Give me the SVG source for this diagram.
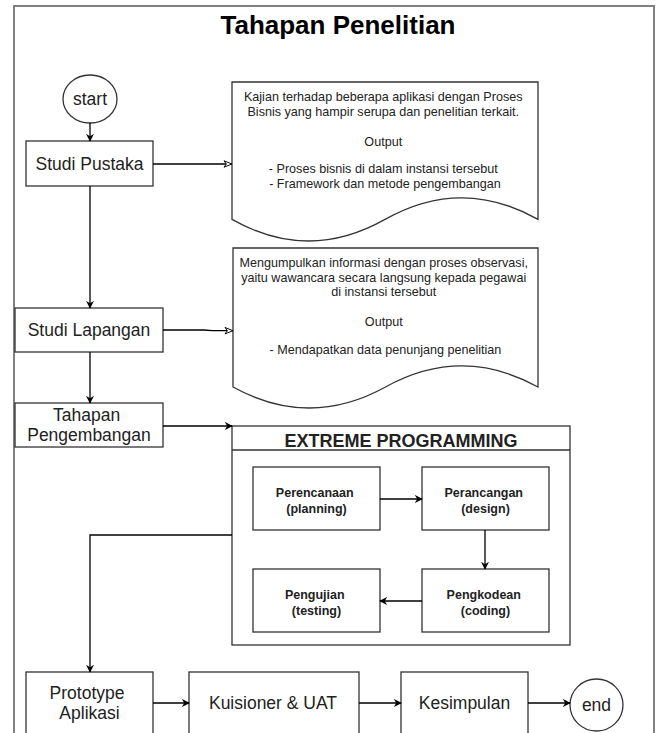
<svg xmlns="http://www.w3.org/2000/svg" width="660" height="733" viewBox="0 0 660 733">
  <defs>
    <marker id="arrow" viewBox="0 0 10 10" refX="9" refY="5" markerWidth="8" markerHeight="8" markerUnits="userSpaceOnUse" orient="auto">
      <path d="M0,0 L10,5 L0,10 L3,5 Z" fill="#000"/>
    </marker>
    <marker id="arrowOpen" viewBox="0 0 12 10" refX="11" refY="5" markerWidth="10" markerHeight="8" markerUnits="userSpaceOnUse" orient="auto">
      <path d="M1,1 L11,5 L1,9 L4,5 Z" fill="#fff" stroke="#000" stroke-width="1.2"/>
    </marker>
    <style>
      .box { fill: #fff; stroke: #333; stroke-width: 1.3; }
      .doc { fill: #fff; stroke: #333; stroke-width: 1.3; }
      .lbl { font-family: "Liberation Sans", Arial, sans-serif; font-size: 17.5px; fill: #222; text-anchor: middle; }
      .small { font-family: "Liberation Sans", Arial, sans-serif; font-size: 12.6px; fill: #222; text-anchor: middle; }
      .xp { font-family: "Liberation Sans", Arial, sans-serif; font-size: 12.5px; font-weight: bold; fill: #222; text-anchor: middle; }
      .edge-open { fill: none; stroke: #000; stroke-width: 1.3; marker-end: url(#arrowOpen); }
      .edge-arr { fill: none; stroke: #000; stroke-width: 1.3; marker-end: url(#arrow); }
    </style>
  </defs>

  <rect width="660" height="733" fill="#fff"/>

  <!-- outer frame -->
  <g id="frame">
    <rect x="14" y="6" width="640" height="740" fill="none" stroke="#808080" stroke-width="2"/>
    <text x="338" y="34" font-family="Liberation Sans, Arial, sans-serif" font-size="26" font-weight="bold" text-anchor="middle" fill="#000">Tahapan Penelitian</text>
  </g>

  <g id="start">
    <ellipse cx="90" cy="99" rx="27" ry="24" class="box"/>
    <text x="90" y="105" class="lbl">start</text>
  </g>

  <g id="studi-pustaka">
    <rect x="26" y="141" width="127" height="45" class="box"/>
    <text x="89.5" y="170" class="lbl">Studi Pustaka</text>
  </g>

  <g id="doc-pustaka">
    <path class="doc" d="M232,82 H538 V219.4 Q461.5,176.2 385,219.4 Q308.5,262.6 232,219.4 Z"/>
    <text class="small">
      <tspan x="385" y="101">Kajian terhadap beberapa aplikasi dengan Proses</tspan>
      <tspan x="385" y="116">Bisnis yang hampir serupa dan penelitian terkait.</tspan>
      <tspan x="385" y="146">Output</tspan>
      <tspan x="385" y="173">- Proses bisnis di dalam instansi tersebut</tspan>
      <tspan x="385" y="188">- Framework dan metode pengembangan</tspan>
    </text>
  </g>

  <g id="studi-lapangan">
    <rect x="15" y="308" width="148" height="44" class="box"/>
    <text x="89" y="336" class="lbl">Studi Lapangan</text>
  </g>

  <g id="doc-lapangan">
    <path class="doc" d="M233,248 H538 V387 Q461.75,344.9 385.5,387 Q309.25,429 233,387 Z"/>
    <text class="small">
      <tspan x="385.5" y="267">Mengumpulkan informasi dengan proses observasi,</tspan>
      <tspan x="385.5" y="281.5">yaitu wawancara secara langsung kepada pegawai</tspan>
      <tspan x="385.5" y="296">di instansi tersebut</tspan>
      <tspan x="385.5" y="326">Output</tspan>
      <tspan x="385.5" y="353.5">- Mendapatkan data penunjang penelitian</tspan>
    </text>
  </g>

  <g id="tahapan-pengembangan">
    <rect x="15" y="403" width="148" height="44" class="box"/>
    <text class="lbl">
      <tspan x="89" y="421">Tahapan</tspan>
      <tspan x="89" y="441">Pengembangan</tspan>
    </text>
  </g>

  <g id="extreme-programming">
    <rect x="232" y="426" width="338" height="219" class="box"/>
    <line x1="232" y1="450" x2="570" y2="450" stroke="#333" stroke-width="1.3"/>
    <text x="401" y="447" font-family="Liberation Sans, Arial, sans-serif" font-size="18" font-weight="bold" text-anchor="middle" fill="#222">EXTREME PROGRAMMING</text>
  </g>

  <g id="perencanaan">
    <rect x="253" y="467" width="127" height="63" class="box"/>
    <text class="xp">
      <tspan x="316.5" y="497">Perencanaan</tspan>
      <tspan x="316.5" y="513">(planning)</tspan>
    </text>
  </g>

  <g id="perancangan">
    <rect x="422" y="467" width="127" height="63" class="box"/>
    <text class="xp">
      <tspan x="485.5" y="497">Perancangan</tspan>
      <tspan x="485.5" y="513">(design)</tspan>
    </text>
  </g>

  <g id="pengujian">
    <rect x="253" y="569" width="127" height="63" class="box"/>
    <text class="xp">
      <tspan x="316.5" y="599">Pengujian</tspan>
      <tspan x="316.5" y="615">(testing)</tspan>
    </text>
  </g>

  <g id="pengkodean">
    <rect x="422" y="569" width="127" height="63" class="box"/>
    <text class="xp">
      <tspan x="485.5" y="599">Pengkodean</tspan>
      <tspan x="485.5" y="615">(coding)</tspan>
    </text>
  </g>

  <g id="prototype">
    <rect x="26" y="672" width="127" height="80" class="box"/>
    <text class="lbl">
      <tspan x="89.5" y="699">Prototype</tspan>
      <tspan x="89.5" y="719">Aplikasi</tspan>
    </text>
  </g>

  <g id="kuisioner">
    <rect x="189" y="672" width="170" height="80" class="box"/>
    <text x="273" y="709" class="lbl">Kuisioner &amp; UAT</text>
  </g>

  <g id="kesimpulan">
    <rect x="401" y="672" width="127" height="80" class="box"/>
    <text x="464.5" y="709" class="lbl">Kesimpulan</text>
  </g>

  <g id="end">
    <ellipse cx="596.5" cy="705" rx="26.5" ry="26" class="box"/>
    <text x="596.5" y="711" class="lbl">end</text>
  </g>

  <!-- connectors, drawn on top of the shapes -->
  <g id="connectors">
    <path class="edge-arr" d="M90,123 V141"/>
    <path class="edge-open" d="M153,164 H232"/>
    <path class="edge-arr" d="M90,186 V308"/>
    <path class="edge-open" d="M163,330 H204 L212,330.7 H233"/>
    <path class="edge-arr" d="M90,352 V403"/>
    <path class="edge-arr" d="M163,426 H232"/>
    <path class="edge-arr" d="M380,499 H422"/>
    <path class="edge-arr" d="M485,530 V569"/>
    <path class="edge-arr" d="M422,601 H380"/>
    <path class="edge-arr" d="M232,535 H90 V672"/>
    <path class="edge-arr" d="M153,703 H189"/>
    <path class="edge-arr" d="M359,703 H401"/>
    <path class="edge-arr" d="M528,703 H570"/>
  </g>
</svg>
